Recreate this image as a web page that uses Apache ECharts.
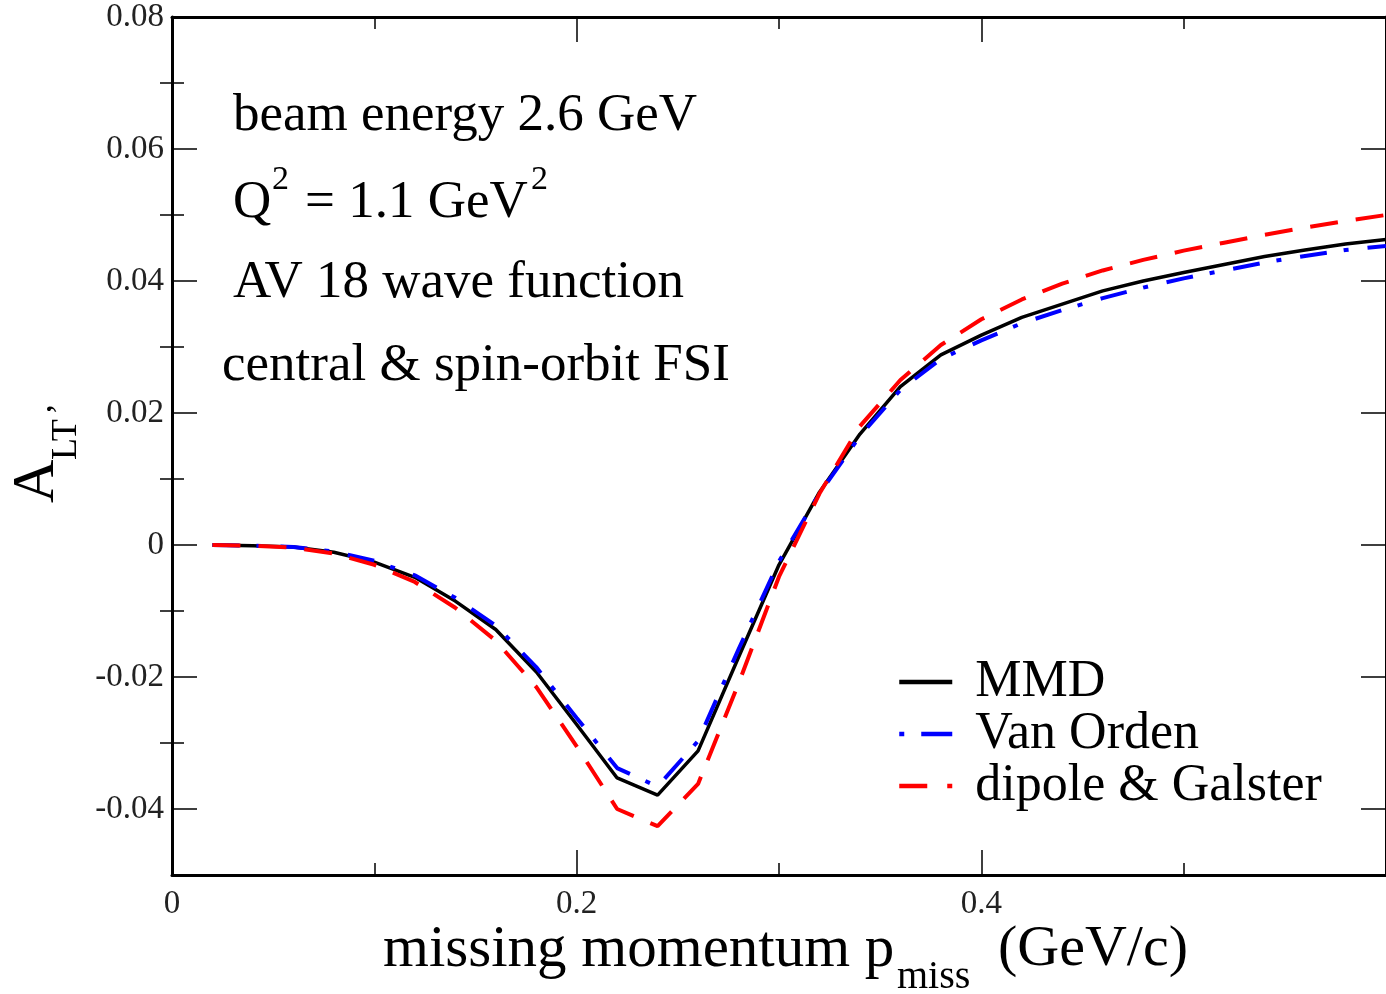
<!DOCTYPE html>
<html><head><meta charset="utf-8">
<script src="https://cdn.jsdelivr.net/npm/echarts@6/dist/echarts.min.js"></script>
<style>html,body{margin:0;padding:0;background:#fff}#c{width:1386px;height:994px}</style>
</head><body><div id="c"></div><script>
// missing momentum (GeV/c)
const pmiss = [0.02,0.04,0.06,0.08,0.10,0.12,0.14,0.16,0.18,0.20,0.22,0.24,0.26,0.28,0.30,0.32,0.34,0.36,0.38,0.40,0.42,0.44,0.46,0.48,0.50,0.52,0.54,0.56,0.58,0.60];
const mmd = [0,-0.0001,-0.0003,-0.0011,-0.0026,-0.0049,-0.0085,-0.0128,-0.0192,-0.0272,-0.0353,-0.0379,-0.0312,-0.0170,-0.0030,0.0080,0.0168,0.0240,0.0288,0.0318,0.0345,0.0365,0.0385,0.0400,0.0413,0.0425,0.0437,0.0447,0.0456,0.0463];
const vanOrden = [0,-0.0001,-0.0003,-0.0010,-0.0024,-0.0046,-0.0080,-0.0122,-0.0185,-0.0262,-0.0338,-0.0366,-0.0297,-0.0158,-0.0025,0.0078,0.0165,0.0235,0.0282,0.0310,0.0336,0.0356,0.0374,0.0390,0.0404,0.0416,0.0428,0.0438,0.0447,0.0453];
const dipoleGalster = [0,-0.0001,-0.0004,-0.0013,-0.0030,-0.0056,-0.0095,-0.0145,-0.0215,-0.0305,-0.0400,-0.0426,-0.0362,-0.0210,-0.0048,0.0078,0.0180,0.0250,0.0303,0.0342,0.0372,0.0396,0.0416,0.0432,0.0446,0.0458,0.0470,0.0481,0.0491,0.0500];
const seriesNames = ['MMD','Van Orden','dipole & Galster'];
const yMajorTicks = [-0.04,-0.02,0,0.02,0.04,0.06,0.08];
const yMinorTicks = [-0.03,-0.01,0.01,0.03,0.05,0.07];
const annotations = ['beam energy 2.6 GeV','AV 18 wave function','central & spin-orbit FSI'];

const F = '"Liberation Serif","Times New Roman",serif';
const zip = ys => pmiss.map((x,i)=>[x, ys[i]]);
const chart = echarts.init(document.getElementById('c'), null, {renderer:'canvas'});

const xBase = {
  type:'value', min:0, max:0.6, interval:0.2,
  axisLine:{show:true, onZero:false, lineStyle:{color:'#000', width:3}},
  axisTick:{show:true, inside:true, length:25, lineStyle:{color:'#000', width:1.5}},
  minorTick:{show:true, splitNumber:2, length:12, lineStyle:{color:'#000', width:1.5}},
  splitLine:{show:false}, minorSplitLine:{show:false}
};
const yBase = {
  type:'value', min:-0.05, max:0.08,
  axisLine:{show:true, onZero:false, lineStyle:{color:'#000', width:3}},
  axisTick:{show:true, inside:true, length:25, customValues:yMajorTicks, lineStyle:{color:'#000', width:1.5}},
  splitLine:{show:false}
};
const yMinor = {
  type:'value', min:-0.05, max:0.08,
  axisLine:{show:false},
  axisTick:{show:true, inside:true, length:12, customValues:yMinorTicks, lineStyle:{color:'#000', width:1.5}},
  axisLabel:{show:false}, splitLine:{show:false}
};
const txt = (x, y, text, size, extra) => Object.assign({type:'text', x:x, y:y,
  style:{text:text, font:size+'px '+F, fill:'#000', align:'left', verticalAlign:'middle'}}, extra || {});

chart.setOption({
  animation:false,
  backgroundColor:'#fff',
  grid:{left:172, right:-10, top:17, bottom:119, containLabel:false},
  xAxis:[
    Object.assign({}, xBase, {position:'bottom', axisLabel:{show:true, margin:13, fontFamily:F, fontSize:33, color:'#222', showMaxLabel:false,
      formatter:v=>String(+v.toFixed(1))}}),
    Object.assign({}, xBase, {position:'top', axisLabel:{show:false}})
  ],
  yAxis:[
    Object.assign({}, yBase, {position:'left', axisLabel:{show:true, customValues:yMajorTicks, margin:8, fontFamily:F, fontSize:33, color:'#222',
      formatter:v=>String(+(+v).toFixed(2))}}),
    Object.assign({}, yBase, {position:'right', axisLabel:{show:false}}),
    Object.assign({}, yMinor, {position:'left'}),
    Object.assign({}, yMinor, {position:'right'})
  ],
  legend:{
    orient:'vertical', left:897, top:656, padding:0, itemGap:0,
    itemWidth:53, itemHeight:14, selectedMode:false,
    itemStyle:{opacity:0, color:'rgba(0,0,0,0)', borderWidth:0},
    textStyle:{fontFamily:F, fontSize:52, color:'#000', lineHeight:49, padding:[0,0,0,18]},
    data:[
      {name:seriesNames[0], lineStyle:{color:'#000', width:4.5, type:'solid'}},
      {name:seriesNames[1], lineStyle:{color:'#0000ff', width:4.5, type:[5,17,31,100]}},
      {name:seriesNames[2], lineStyle:{color:'#ff0000', width:4.5, type:[28,20,5,100]}}
    ]
  },
  series:[
    {name:seriesNames[0], type:'line', data:zip(mmd), symbol:'none', showSymbol:false, xAxisIndex:0, yAxisIndex:0,
      lineStyle:{color:'#000', width:3.5, type:'solid'}, itemStyle:{color:'#000'}, emphasis:{disabled:true}},
    {name:seriesNames[1], type:'line', data:zip(vanOrden), symbol:'none', showSymbol:false, xAxisIndex:0, yAxisIndex:0,
      lineStyle:{color:'#0000ff', width:4, type:[27,17,5,19]}, itemStyle:{color:'#0000ff'}, emphasis:{disabled:true}},
    {name:seriesNames[2], type:'line', data:zip(dipoleGalster), symbol:'none', showSymbol:false, xAxisIndex:0, yAxisIndex:0,
      lineStyle:{color:'#ff0000', width:4, type:[28,18]}, itemStyle:{color:'#ff0000'}, emphasis:{disabled:true}}
  ],
  graphic:[
    txt(233, 116, annotations[0], 53),
    txt(233, 203, 'Q', 53),
    txt(272, 180, '2', 34),
    txt(305, 203, '= 1.1 GeV', 53),
    txt(531, 180, '2', 34),
    txt(233, 283, annotations[1], 53),
    txt(222, 366, annotations[2], 53),
    // x-axis title
    txt(383, 950, 'missing momentum p', 59),
    txt(897, 977, 'miss', 40),
    txt(998, 950, '(GeV/c)', 58),
    // y-axis title (rotated)
    txt(37, 503, 'A', 60, {rotation:Math.PI/2}),
    txt(67, 460, 'LT', 36, {rotation:Math.PI/2}),
    txt(62, 415, '\u2019', 36, {rotation:Math.PI/2})
  ]
});
</script></body></html>
